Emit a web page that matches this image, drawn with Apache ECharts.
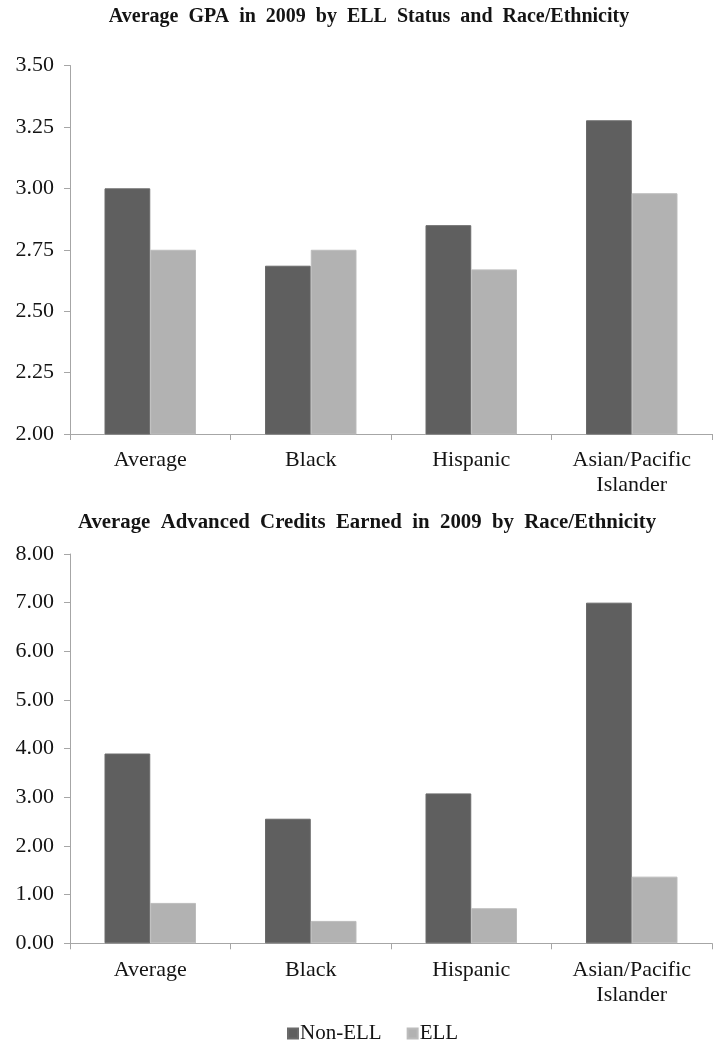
<!DOCTYPE html>
<html>
<head>
<meta charset="utf-8">
<script src="https://cdn.jsdelivr.net/npm/echarts@6/dist/echarts.min.js"></script>
<style>
  html, body { margin: 0; padding: 0; background: #fff; }
  #chart { width: 717px; height: 1049px; }
</style>
</head>
<body>
<div id="chart"></div>
<script>
// Categories shared by both panels
const categories = ['Average', 'Black', 'Hispanic', 'Asian/Pacific\nIslander'];
const seriesNames = ['Non-ELL', 'ELL'];

// Panel 1: average GPA
const gpaNonEll = [3.00, 2.685, 2.85, 3.277];
const gpaEll = [2.75, 2.75, 2.67, 2.98];
const gpaTicks = { min: 2.0, max: 3.5, interval: 0.25 };

// Panel 2: average advanced credits earned
const creditsNonEll = [3.90, 2.56, 3.08, 7.00];
const creditsEll = [0.83, 0.46, 0.72, 1.37];
const creditTicks = { min: 0, max: 8, interval: 1 };

const titles = [
  'Average  GPA  in  2009  by  ELL  Status  and  Race/Ethnicity',
  'Average  Advanced  Credits  Earned  in  2009  by  Race/Ethnicity'
];

const darkGray = '#5f5f5f';
const lightGray = '#b2b2b2';
const axisGray = '#a6a6a6';
const serif = '"Liberation Serif", "Times New Roman", serif';

function valueAxis(gridIndex, ticks) {
  return {
    type: 'value', gridIndex,
    min: ticks.min, max: ticks.max, interval: ticks.interval,
    axisLine: { show: true, lineStyle: { color: axisGray, width: 1 } },
    axisTick: { show: true, length: 6, lineStyle: { color: axisGray } },
    splitLine: { show: false },
    axisLabel: {
      margin: 16, color: '#141414', fontFamily: serif, fontSize: 22,
      formatter: v => v.toFixed(2)
    }
  };
}

function categoryAxis(gridIndex) {
  return {
    type: 'category', gridIndex, data: categories,
    axisLine: { show: true, lineStyle: { color: axisGray, width: 1 } },
    axisTick: { show: true, length: 6, alignWithLabel: false, lineStyle: { color: axisGray } },
    axisLabel: { margin: 14, color: '#141414', fontFamily: serif, fontSize: 22, lineHeight: 25 }
  };
}

function barSeries(name, data, color, idx) {
  return {
    name, type: 'bar', data,
    xAxisIndex: idx, yAxisIndex: idx,
    barGap: '0%', barCategoryGap: '43%',
    itemStyle: { color, borderColor: color === darkGray ? '#6a6a6a' : '#bcbcbc', borderWidth: 1 },
    silent: true
  };
}

const chart = echarts.init(document.getElementById('chart'), null, { renderer: 'canvas' });
chart.setOption({
  animation: false,
  backgroundColor: '#ffffff',
  title: [
    {
      text: titles[0], left: 364, textAlign: 'center', top: 2,
      textStyle: { fontFamily: serif, fontWeight: 'bold', fontSize: 20, color: '#141414' }
    },
    {
      text: titles[1], left: 362, textAlign: 'center', top: 507,
      textStyle: { fontFamily: serif, fontWeight: 'bold', fontSize: 20.8, color: '#141414' }
    }
  ],
  legend: {
    data: seriesNames,
    left: 282, top: 1018,
    itemWidth: 10, itemHeight: 10, itemGap: 25,
    icon: 'rect',
    textStyle: { fontFamily: serif, fontSize: 21, color: '#141414', padding: [0, 0, 0, -3] }
  },
  grid: [
    { left: 70, right: 5, top: 65.5, height: 368.5 },
    { left: 70, right: 5, top: 554, height: 389.3 }
  ],
  xAxis: [categoryAxis(0), categoryAxis(1)],
  yAxis: [valueAxis(0, gpaTicks), valueAxis(1, creditTicks)],
  series: [
    barSeries(seriesNames[0], gpaNonEll, darkGray, 0),
    barSeries(seriesNames[1], gpaEll, lightGray, 0),
    barSeries(seriesNames[0], creditsNonEll, darkGray, 1),
    barSeries(seriesNames[1], creditsEll, lightGray, 1)
  ]
});
</script>
</body>
</html>
